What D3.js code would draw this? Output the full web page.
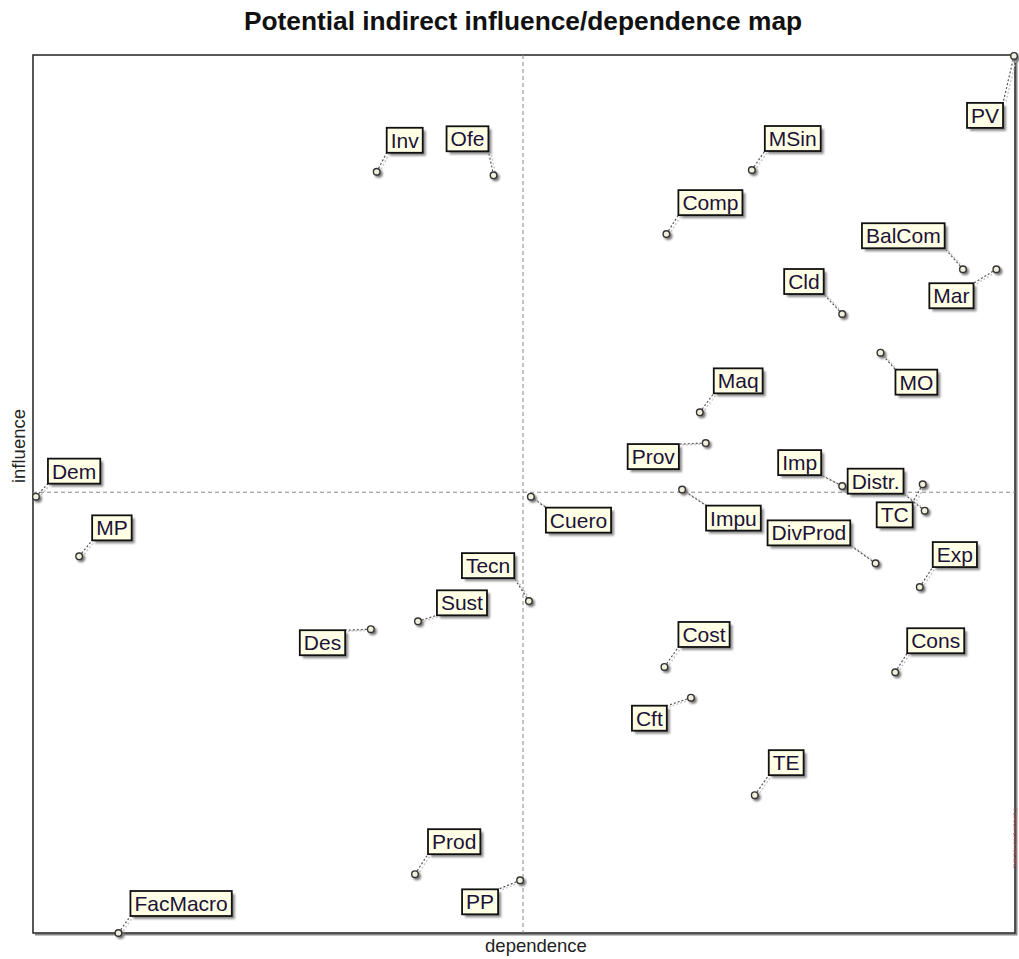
<!DOCTYPE html>
<html>
<head>
<meta charset="utf-8">
<script src="https://cdn.jsdelivr.net/npm/d3@7/dist/d3.min.js"></script>
<style>
  html, body { margin: 0; padding: 0; background: #fff; }
  svg { display: block; }
  text { font-family: "Liberation Sans", Arial, sans-serif; }
</style>
</head>
<body>
<svg id="chart" width="1019" height="959"></svg>
<script>
// ---- data (axes are relative 0-100 units) ----
const variables  = ["PV","Inv","Ofe","MSin","Comp","BalCom","Mar","Cld","MO","Maq","Prov","Imp","Distr.","TC",
                    "Dem","MP","Cuero","Impu","DivProd","Exp","Tecn","Sust","Des","Cost","Cons","Cft","TE","Prod","PP","FacMacro"];
const dependence = [99.9, 35.0, 46.9, 73.2, 64.5, 94.7, 98.1, 82.4, 86.3, 67.9, 68.5, 82.4, 90.8, 90.6,
                    0.3, 4.7, 50.7, 66.1, 85.8, 90.3, 50.5, 39.2, 34.4, 64.3, 87.8, 67.0, 73.5, 38.9, 49.6, 8.7];
const influence  = [99.9, 86.7, 86.3, 86.9, 79.6, 75.6, 75.6, 70.5, 66.1, 59.3, 55.8, 50.9, 48.1, 51.1,
                    49.7, 42.9, 49.7, 50.5, 42.1, 39.4, 37.8, 35.5, 34.6, 30.3, 29.7, 26.8, 15.7, 6.7, 6.0, 0.0];
const meanDependence = 49.9;
const meanInfluence  = 50.2;
const titleText = "Potential indirect influence/dependence map";
const xAxisLabel = "dependence";
const yAxisLabel = "influence";

// label placement (layout only: offset of label box top-left from the point, px)
const labelDx = [-47, 10, -47, 13, 12, -101, -67, -58, 15, 14, -78, -64, -77, -46,
                 12, 13, 15, 24, -108, 13, -67, 19, -71, 14, 12, -59, 14, 13, -58, 12];
const labelDy = [47, -44, -49, -44, -44, -46, 14, -45, 17, -44, 1, -36, -42, 18,
                 -38, -41, 11, 16, -43, -45, -48, -31, 1, -45, -44, 8, -45, -45, 9, -42];

// ---- layout ----
const svg = d3.select("#chart");
const plot = {left: 33, right: 1015, top: 55, bottom: 933};
const x = d3.scaleLinear().domain([0, 100]).range([plot.left, plot.right]);
const y = d3.scaleLinear().domain([0, 100]).range([plot.bottom, plot.top]);

const defs = svg.append("defs");
const blur = defs.append("filter").attr("id", "sh").attr("x", "-20%").attr("y", "-20%").attr("width", "150%").attr("height", "150%");
blur.append("feGaussianBlur").attr("stdDeviation", 1.2);

// title
svg.append("text").attr("x", 523).attr("y", 30).attr("text-anchor", "middle")
  .attr("font-size", 26.3).attr("font-weight", "bold").attr("fill", "#111").text(titleText);

// frame shadow + frame
svg.append("path")
  .attr("d", `M${plot.right + 1.5},${plot.top + 2} V${plot.bottom + 1.5} H${plot.left + 2}`)
  .attr("fill", "none").attr("stroke", "#888").attr("stroke-width", 2);
svg.append("rect").attr("x", plot.left).attr("y", plot.top)
  .attr("width", plot.right - plot.left).attr("height", plot.bottom - plot.top)
  .attr("fill", "none").attr("stroke", "#222").attr("stroke-width", 1.5);

// mean lines
svg.append("line").attr("x1", x(meanDependence)).attr("x2", x(meanDependence))
  .attr("y1", plot.top).attr("y2", plot.bottom)
  .attr("stroke", "#888").attr("stroke-width", 1).attr("stroke-dasharray", "4,3");
svg.append("line").attr("x1", plot.left).attr("x2", plot.right)
  .attr("y1", y(meanInfluence)).attr("y2", y(meanInfluence))
  .attr("stroke", "#888").attr("stroke-width", 1).attr("stroke-dasharray", "4,3");

// axis titles
svg.append("text").attr("x", 536).attr("y", 952).attr("text-anchor", "middle")
  .attr("font-size", 18.5).attr("fill", "#222").text(xAxisLabel);
svg.append("text").attr("transform", "translate(25,446) rotate(-90)").attr("text-anchor", "middle")
  .attr("font-size", 18.5).attr("fill", "#222").text(yAxisLabel);

// watermark at right edge
svg.append("text").attr("transform", "translate(1013,838) rotate(90)").attr("text-anchor", "middle")
  .attr("font-size", 5).attr("fill", "#c05050").attr("opacity", 0.8).text("© LIPSOR-EPITA-MICMAC");

// ---- points and labels ----
const data = variables.map((name, i) => ({
  name, dep: dependence[i], inf: influence[i], dx: labelDx[i], dy: labelDy[i]
}));

const fontSize = 21, padX = 4, boxH = 25;
const layer = svg.append("g");

// measure text widths
const meas = svg.append("text").attr("font-size", fontSize).attr("visibility", "hidden");
data.forEach(d => {
  meas.text(d.name);
  d.tw = meas.node().getComputedTextLength();
  d.px = x(d.dep); d.py = y(d.inf);
  d.bx = d.px + d.dx; d.by = d.py + d.dy;
  d.bw = d.tw + 2 * padX; d.bh = boxH;
  d.lx = Math.max(d.bx, Math.min(d.bx + d.bw, d.px));
  d.ly = Math.max(d.by, Math.min(d.by + d.bh, d.py));
});
meas.remove();

// leaders
const leaders = layer.append("g");
leaders.selectAll("line.ls").data(data).join("line").attr("class", "ls")
  .attr("x1", d => d.px + 2.5).attr("y1", d => d.py + 1)
  .attr("x2", d => d.lx + 2.5).attr("y2", d => d.ly + 1)
  .attr("stroke", "#c8c8c8").attr("stroke-width", 1.5).attr("stroke-dasharray", "2,2");
leaders.selectAll("line.lm").data(data).join("line").attr("class", "lm")
  .attr("x1", d => d.px).attr("y1", d => d.py)
  .attr("x2", d => d.lx).attr("y2", d => d.ly)
  .attr("stroke", "#555").attr("stroke-width", 1.2).attr("stroke-dasharray", "2,2");

// markers
layer.selectAll("circle.ms").data(data).join("circle").attr("class", "ms")
  .attr("cx", d => d.px + 2).attr("cy", d => d.py + 2).attr("r", 4)
  .attr("fill", "#777").attr("filter", "url(#sh)");
layer.selectAll("circle.m").data(data).join("circle").attr("class", "m")
  .attr("cx", d => d.px).attr("cy", d => d.py).attr("r", 3.3)
  .attr("fill", "#f0f0dc").attr("stroke", "#333").attr("stroke-width", 1.4);

// label boxes
const lab = layer.selectAll("g.lab").data(data).join("g").attr("class", "lab");
lab.append("rect")
  .attr("x", d => d.bx + 3).attr("y", d => d.by + 3)
  .attr("width", d => d.bw).attr("height", d => d.bh)
  .attr("fill", "#8a8a8a").attr("filter", "url(#sh)");
lab.append("rect")
  .attr("x", d => d.bx).attr("y", d => d.by)
  .attr("width", d => d.bw).attr("height", d => d.bh)
  .attr("fill", "#ffffe6").attr("stroke", "#111").attr("stroke-width", 1.8);
lab.append("text")
  .attr("x", d => d.bx + padX).attr("y", d => d.by + boxH - 5)
  .attr("font-size", fontSize).attr("fill", "#1c1238")
  .text(d => d.name);
</script>
</body>
</html>
